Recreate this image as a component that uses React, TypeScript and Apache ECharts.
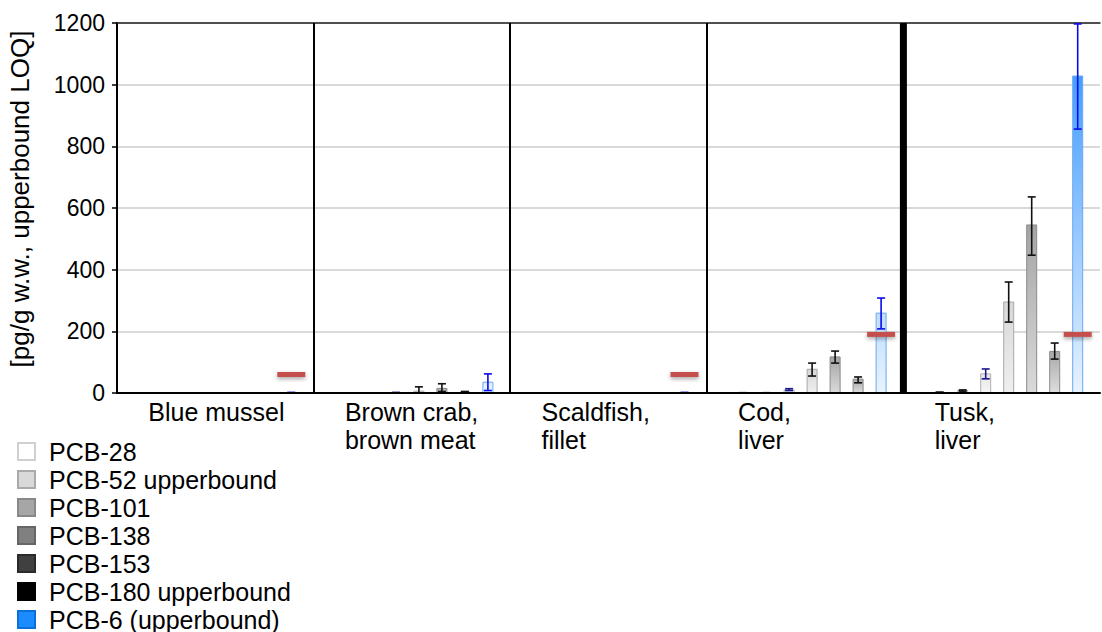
import React, { useEffect, useRef } from "react";
import * as echarts from "echarts";

const categories = ["Blue mussel", "Brown crab,\nbrown meat", "Scaldfish,\nfillet", "Cod,\nliver", "Tusk,\nliver"];
const seriesNames = ["PCB-28", "PCB-52 upperbound", "PCB-101", "PCB-138", "PCB-153", "PCB-180 upperbound", "PCB-6 (upperbound)"];

const pcb28 = [0, 0, 0, 0.5, 2];
const pcb52 = [0, 0, 0, 0.5, 8];
const pcb101 = [0, 1, 0, 10, 62];
const pcb138 = [0, 6, 0, 77, 295];
const pcb153 = [0, 15, 0, 117, 545];
const pcb180 = [0, 3, 0, 45, 135];
const pcb6 = [1, 35, 1, 259, 1028];

const pcb28Lo = [0, 0, 0, 0, 1];
const pcb28Hi = [0, 0, 0, 1, 3];
const pcb52Lo = [0, 0, 0, 0, 6];
const pcb52Hi = [0, 0, 0, 1, 10];
const pcb101Lo = [0, 0, 0, 8, 46];
const pcb101Hi = [0, 2, 0, 14, 78];
const pcb138Lo = [0, 0, 0, 55, 230];
const pcb138Hi = [0, 20, 0, 97, 360];
const pcb153Lo = [0, 5, 0, 97, 447];
const pcb153Hi = [0, 30, 0, 136, 636];
const pcb180Lo = [0, 1, 0, 33, 110];
const pcb180Hi = [0, 5, 0, 52, 162];
const pcb6Lo = [0, 8, 0, 208, 856];
const pcb6Hi = [2, 62, 2, 308, 1197];

const limits = [60, null, 60, 190, 190];

const yTicks = [0, 200, 400, 600, 800, 1000, 1200];

const FONT = "'Liberation Sans', Arial, sans-serif";
const BAR_W = 10;
const BAR_STEP = 23;
const SHIFT = 7;

const values = [pcb28, pcb52, pcb101, pcb138, pcb153, pcb180, pcb6];
const lows = [pcb28Lo, pcb52Lo, pcb101Lo, pcb138Lo, pcb153Lo, pcb180Lo, pcb6Lo];
const highs = [pcb28Hi, pcb52Hi, pcb101Hi, pcb138Hi, pcb153Hi, pcb180Hi, pcb6Hi];

const barTop = ["#f0f0f0", "#e4e4e4", "#e6e6e6", "#d8d8d8", "#a4a4a4", "#a8a8a8"];
const barBottom = ["#fafafa", "#f4f4f4", "#f6f6f6", "#efefef", "#dadada", "#dedede"];
const barBorder = ["#bdbdbd", "#b0b0b0", "#b0b0b0", "#a8a8a8", "#8a8a8a", "#8c8c8c", "#6aa8ee"];
const errColors = ["#111", "#111", "#1a1a8c", "#111", "#111", "#111", "#0a0aee"];
const legendFill = ["#ffffff", "#d9d9d9", "#a6a6a6", "#808080", "#404040", "#000000", "#1a8cff"];
const legendBorder = ["#d0d0d0", "#aaaaaa", "#888888", "#666666", "#2a2a2a", "#000000", "#0a6fd8"];

export default function App() {
  const ref = useRef<HTMLDivElement>(null);
  useEffect(() => {
    if (!ref.current) return;
    const chart = echarts.init(ref.current, null, { renderer: "svg" });

    const series: any[] = [];
    values.forEach((vals, k) => {
      const fill =
        k === 6
          ? new echarts.graphic.LinearGradient(0, 23, 0, 393, [
              { offset: 0, color: "#2a8fff" },
              { offset: 1, color: "#e8f3ff" },
            ], true)
          : new echarts.graphic.LinearGradient(0, 0, 0, 1, [
              { offset: 0, color: barTop[k] },
              { offset: 1, color: barBottom[k] },
            ]);
      const off = (k - 3) * BAR_STEP + SHIFT;
      series.push({
        name: seriesNames[k],
        type: "custom",
        data: vals.map((v, i) => [i, v]),
        encode: { x: 0, y: 1 },
        itemStyle: { color: legendFill[k] },
        z: 2,
        renderItem: (params: any, api: any) => {
          const i = api.value(0);
          const base = api.coord([i, 0]);
          const top = api.coord([i, api.value(1)]);
          const cx = base[0] + off;
          const h = base[1] - top[1];
          if (h <= 0) return null;
          return {
            type: "rect",
            shape: { x: cx - BAR_W / 2, y: top[1], width: BAR_W, height: h },
            style: { fill, stroke: barBorder[k], lineWidth: 1 },
          };
        },
      });
    });

    values.forEach((_, k) => {
      const data: any[] = [];
      lows[k].forEach((lo, i) => {
        if (highs[k][i] > lo) data.push([i, lo, highs[k][i]]);
      });
      const off = (k - 3) * BAR_STEP + SHIFT;
      const col = errColors[k];
      series.push({
        name: seriesNames[k] + " error",
        type: "custom",
        data,
        encode: { x: 0, y: [1, 2] },
        z: 4,
        renderItem: (params: any, api: any) => {
          const x = api.value(0);
          const lo = api.coord([x, api.value(1)]);
          const hi = api.coord([x, api.value(2)]);
          const cx = lo[0] + off;
          const st = { stroke: col, lineWidth: 1.6 };
          return {
            type: "group",
            children: [
              { type: "line", shape: { x1: cx, y1: lo[1], x2: cx, y2: hi[1] }, style: st },
              { type: "line", shape: { x1: cx - 4, y1: lo[1], x2: cx + 4, y2: lo[1] }, style: st },
              { type: "line", shape: { x1: cx - 4, y1: hi[1], x2: cx + 4, y2: hi[1] }, style: st },
            ],
          };
        },
      });
    });

    const limitData: any[] = [];
    limits.forEach((v, i) => {
      if (v !== null) limitData.push([i, v]);
    });
    series.push({
      name: "limit",
      type: "custom",
      data: limitData,
      encode: { x: 0, y: 1 },
      z: 6,
      renderItem: (params: any, api: any) => {
        const p = api.coord([api.value(0), api.value(1)]);
        const cx = p[0] + 3 * BAR_STEP + SHIFT;
        return {
          type: "rect",
          shape: { x: cx - 14, y: p[1] - 2.5, width: 28, height: 5 },
          style: {
            fill: "#c4504e",
            shadowBlur: 4,
            shadowColor: "rgba(0,0,0,0.35)",
            shadowOffsetY: 2,
          },
        };
      },
    });

    series.push({
      name: "labels",
      type: "custom",
      data: categories.map((_, i) => [i, 0]),
      encode: { x: 0, y: 1 },
      clip: false,
      silent: true,
      renderItem: (params: any, api: any) => {
        const p = api.coord([api.value(0), 0]);
        return {
          type: "text",
          x: p[0] - 67,
          y: p[1] + 5,
          style: {
            text: categories[params.dataIndex],
            fill: "#000",
            fontSize: 25,
            fontFamily: FONT,
            lineHeight: 28,
            align: "left",
            verticalAlign: "top",
          },
        };
      },
    });

    series.push({
      name: "separator",
      type: "line",
      xAxisIndex: 1,
      data: [
        [4, 0],
        [4, 1200],
      ],
      symbol: "none",
      lineStyle: { color: "#000", width: 7 },
      z: 7,
      silent: true,
    });

    chart.setOption({
      animation: false,
      backgroundColor: "#fff",
      textStyle: { fontFamily: FONT },
      grid: { left: 117, right: 2, top: 23, bottom: 239, containLabel: false, outerBoundsMode: "none" },
      legend: {
        orient: "vertical",
        left: 17,
        top: 439,
        height: 200,
        padding: 0,
        icon: "rect",
        itemWidth: 17,
        itemHeight: 17,
        itemGap: 3,
        selectedMode: false,
        textStyle: { fontSize: 25, fontFamily: FONT, color: "#000", lineHeight: 25, padding: [0, 0, 0, 9] },
        data: seriesNames.map((n, k) => ({
          name: n,
          itemStyle: { color: legendFill[k], borderColor: legendBorder[k], borderWidth: 2 },
        })),
      },
      xAxis: [
        {
          type: "category",
          data: categories,
          axisLine: { show: true, lineStyle: { color: "#000", width: 2 } },
          axisTick: { show: false },
          axisLabel: { show: false },
          splitLine: {
            show: true,
            interval: 0,
            showMinLine: false,
            showMaxLine: false,
            lineStyle: { color: "#000", width: 2 },
          },
          z: 5,
        },
        {
          type: "value",
          min: 0,
          max: 5,
          position: "top",
          axisLine: { show: true, onZero: false, lineStyle: { color: "#222", width: 1.5 } },
          axisTick: { show: false },
          axisLabel: { show: false },
          splitLine: { show: false },
        },
      ],
      yAxis: {
        type: "value",
        min: yTicks[0],
        max: yTicks[yTicks.length - 1],
        interval: yTicks[1] - yTicks[0],
        name: "[pg/g w.w., upperbound LOQ]",
        nameLocation: "middle",
        nameRotate: 90,
        nameGap: 84,
        nameTextStyle: { fontSize: 26, fontFamily: FONT, color: "#000", padding: [0, 0, 0, 18] },
        axisLine: { show: true, lineStyle: { color: "#000", width: 2 } },
        axisTick: { show: true, length: 5, lineStyle: { color: "#000", width: 1.5 } },
        axisLabel: { fontSize: 23, fontFamily: FONT, color: "#000", margin: 12, formatter: (v: number) => String(v) },
        splitLine: { show: true, lineStyle: { color: "#d9d9d9", width: 2 } },
      },
      series,
    });
    return () => chart.dispose();
  }, []);
  return (
    <div
      ref={ref}
      style={{ position: "absolute", left: 0, top: 0, width: 1102, height: 632 }}
    />
  );
}
